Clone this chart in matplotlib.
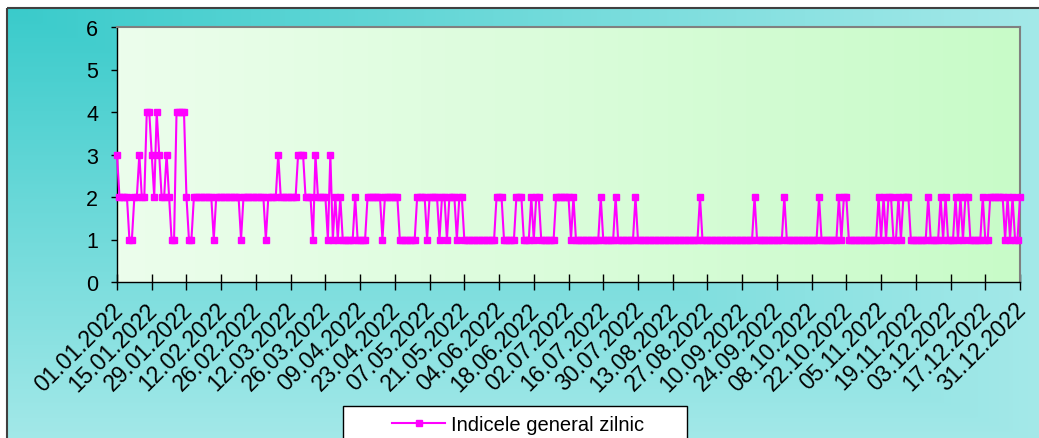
import numpy as np
import pandas as pd
import matplotlib
matplotlib.use("Agg")
import matplotlib.pyplot as plt
from matplotlib.patches import Rectangle
from matplotlib.transforms import ScaledTranslation

plt.rcParams['font.family'] = ['Liberation Sans', 'DejaVu Sans']

# daily index values
jan = [3,2,2,2,2,1,1,2,2,3,2,2,4,4,3,2,4,3,2,2,3,2,1,1,4,4,4,4,2,1,1]
feb = [2,2,2,2,2,2,2,2,1,2,2,2,2,2,2,2,2,2,2,1,2,2,2,2,2,2,2,2]
mar = [2,1,2,2,2,2,3,2,2,2,2,2,2,2,3,3,3,2,2,2,1,3,2,2,2,2,1,3,1,2,1]
apr = [2,1,1,1,1,1,2,1,1,1,1,2,2,2,2,2,2,1,2,2,2,2,2,2,1,1,1,1,1,1]
may = [1,2,2,2,2,1,2,2,2,2,1,2,2,1,2,2,2,1,2,2,1,1,1,1,1,1,1,1,1,1,1]
jun = [1,1,2,2,2,1,1,1,1,1,2,2,2,1,1,1,2,1,2,2,1,1,1,1,1,1,2,2,2,2]
jul = [2,2,1,2,1,1,1,1,1,1,1,1,1,1,2,1,1,1,1,1,2,1,1,1,1,1,1,1,2,1,1]
aug = [1,1,1,1,1,1,1,1,1,1,1,1,1,1,1,1,1,1,1,1,1,1,1,2,1,1,1,1,1,1,1]
sep = [1,1,1,1,1,1,1,1,1,1,1,1,1,1,2,1,1,1,1,1,1,1,1,1,1,1,2,1,1,1]
oct_ = [1,1,1,1,1,1,1,1,1,1,2,1,1,1,1,1,1,1,2,1,2,2,1,1,1,1,1,1,1,1,1]
nov = [1,1,1,2,1,2,1,2,2,1,1,2,1,2,2,2,1,1,1,1,1,1,1,2,1,1,1,1,2,1]
dec = [2,1,1,1,2,1,2,1,2,2,1,1,1,1,1,2,1,1,2,2,2,2,2,2,1,2,1,2,1,1,2]

values = jan + feb + mar + apr + may + jun + jul + aug + sep + oct_ + nov + dec
days = pd.date_range("2022-01-01", "2022-12-31", freq="D")
tick_days = days[::14]
tick_labels = [d.strftime("%d.%m.%Y") for d in tick_days]
series_name = "Indicele general zilnic"

W, H = 1039, 439
fig = plt.figure(figsize=(W / 100, H / 100), dpi=100)
fig.patch.set_facecolor("white")

# chart area background (gradient from the top left corner)
bg = fig.add_axes([0, 0, 1, 1], zorder=-10)
u, v = np.meshgrid(np.linspace(0, 1, 400), np.linspace(0, 1, 200))
t = np.maximum(u, v)
c0 = np.array([0x3a, 0xcb, 0xcb]) / 255
c1 = np.array([0xa5, 0xe9, 0xe9]) / 255
bg.imshow(c0 + t[..., None] * (c1 - c0), extent=[7, W + 10, H + 10, 9],
          origin="upper", aspect="auto", interpolation="bilinear")
bg.add_patch(Rectangle((7, 9), W, H, fill=False, ec="#404040", lw=1.5))
bg.set_xlim(0, W)
bg.set_ylim(H, 0)
bg.axis("off")

ax = fig.add_axes([117 / W, 1 - 283 / H, (1020 - 117) / W, (283 - 28) / H])
g = np.linspace(0, 1, 256)[None, :, None]
p0 = np.array([0xec, 0xfe, 0xec]) / 255
p1 = np.array([0xc8, 0xfb, 0xc8]) / 255
ax.imshow(p0 + g * (p1 - p0), extent=[0, 1, 0, 1], transform=ax.transAxes,
          aspect="auto", zorder=0)

ax.plot(days, values, color="#FF00FF", lw=1.5, marker="s", ms=4.3,
        mfc="#FF00FF", mec="#FF00FF", clip_on=False, zorder=3, label=series_name)

ax.set_xlim(days[0], days[-1])
ax.set_ylim(0, 6)
ax.set_yticks(range(7))
ax.set_xticks(tick_days)
ax.set_xticklabels(tick_labels, rotation=45, ha="right", rotation_mode="anchor")
ax.tick_params(axis="x", direction="inout", length=12, width=1, pad=5.5, labelsize=16.5)
ax.tick_params(axis="y", direction="out", length=4.5, width=1, pad=9, labelsize=15.5)
shift = ScaledTranslation(-6 / 100, 0, fig.dpi_scale_trans)
for lab in ax.get_xticklabels():
    lab.set_transform(lab.get_transform() + shift)
for s in ["left", "bottom"]:
    ax.spines[s].set_color("black")
    ax.spines[s].set_linewidth(1)
for s in ["top", "right"]:
    ax.spines[s].set_color("#808080")
    ax.spines[s].set_linewidth(1.5)

# legend box, cut off by the bottom edge like in the original
fig.add_artist(Rectangle((343 / W, (H - 470) / H), (687 - 343) / W, 63 / H,
                         transform=fig.transFigure, fc="white", ec="black", lw=1))
fig.legend(loc="center left", bbox_to_anchor=(392 / W, 1 - 426 / H), frameon=False,
           borderpad=0, borderaxespad=0, handlelength=2.65, handletextpad=0.3,
           fontsize=14.5)

fig.savefig("out.png", dpi=100)
